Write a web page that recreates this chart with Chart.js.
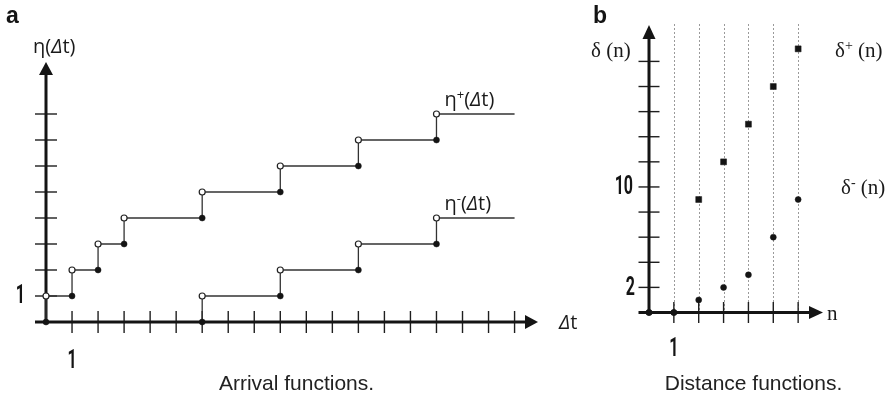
<!DOCTYPE html>
<html>
<head>
<meta charset="utf-8">
<script src="https://cdn.jsdelivr.net/npm/chart.js@4/dist/chart.umd.min.js"></script>
<style>
  html, body { margin: 0; padding: 0; background: #fff; }
  #wrap { position: relative; width: 895px; height: 399px; overflow: hidden; }
  #chartA { position: absolute; left: 0; top: 0; }
  #chartB { position: absolute; left: 590px; top: 0; }
</style>
</head>
<body>
<div id="wrap">
  <canvas id="chartA" width="590" height="399"></canvas>
  <canvas id="chartB" width="305" height="399"></canvas>
</div>
<script>
// ---------- DATA ----------
// panel a : arrival functions (step positions and values)
var etaPlusJumps = [0, 1, 2, 3, 6, 9, 12, 15];
var etaPlusValues = [1, 2, 3, 4, 5, 6, 7, 8];
var etaMinusJumps = [6, 9, 12, 15];
var etaMinusValues = [1, 2, 3, 4];
var dtEnd = 18;
var dtTicks = [1, 2, 3, 4, 5, 6, 7, 8, 9, 10, 11, 12, 13, 14, 15, 16, 17, 18];
var etaTicks = [1, 2, 3, 4, 5, 6, 7, 8];

// panel b : distance functions
var nValues = [0, 1, 2, 3, 4, 5, 6];
var deltaMinus = [0, 0, 1, 2, 3, 6, 9];
var deltaPlus = [0, 0, 9, 12, 15, 18, 21];
var nTicks = [1, 2, 3, 4, 5, 6];
var deltaTicks = [2, 4, 6, 8, 10, 12, 14, 16, 18, 20];

var INK = '#141414';
var LINE = '#333';

// helpers
function stepLine(jumps, vals, end) {
    var pts = [{ x: jumps[0], y: 0 }];
    for (var i = 0; i < jumps.length; i++) pts.push({ x: jumps[i], y: vals[i] });
    pts.push({ x: end, y: vals[vals.length - 1] });
    return pts;
}
function closedDots(jumps, vals) {
    return jumps.map(function (x, i) { return { x: x, y: i === 0 ? 0 : vals[i - 1] }; });
}
function openDots(jumps, vals) {
    return jumps.map(function (x, i) { return { x: x, y: vals[i] }; });
}
function richText(ctx, x, y, parts) {
    parts.forEach(function (p) {
        ctx.font = p.font;
        ctx.fillText(p.t, x, y + (p.dy || 0));
        x += ctx.measureText(p.t).width + (p.gap || 0);
    });
}
function numLabel(ctx, text, x, y, align) {
    ctx.save();
    ctx.font = 'bold 25px Roboto';
    ctx.textBaseline = 'middle';
    var sx = 0.64;
    var w = ctx.measureText(text).width * sx;
    var left = align === 'right' ? x - w : (align === 'center' ? x - w / 2 : x);
    ctx.translate(left, y);
    ctx.scale(sx, 1);
    ctx.textAlign = 'left';
    ctx.fillText(text, 0, 1);
    ctx.restore();
}
function arrowUp(ctx, x, tip, len, half) {
    ctx.beginPath();
    ctx.moveTo(x, tip);
    ctx.lineTo(x - half, tip + len);
    ctx.lineTo(x + half, tip + len);
    ctx.closePath();
    ctx.fill();
}
function arrowRight(ctx, tip, y, len, half) {
    ctx.beginPath();
    ctx.moveTo(tip, y);
    ctx.lineTo(tip - len, y - half);
    ctx.lineTo(tip - len, y + half);
    ctx.closePath();
    ctx.fill();
}

// axes drawn under the marks
var axesPlugin = {
    id: 'axes',
    beforeDatasetsDraw: function (chart, args, opts) {
        var ctx = chart.ctx, xs = chart.scales.x, ys = chart.scales.y, a = chart.chartArea;
        var x0 = xs.getPixelForValue(0), y0 = ys.getPixelForValue(0);
        ctx.save();
        // guide lines (panel b)
        if (opts.guides) {
            ctx.strokeStyle = '#9a9a9a';
            ctx.lineWidth = 1;
            ctx.setLineDash([2, 2]);
            opts.guides.forEach(function (v) {
                var px = Math.round(xs.getPixelForValue(v)) + 0.5;
                ctx.beginPath();
                ctx.moveTo(px, a.top - 1);
                ctx.lineTo(px, y0);
                ctx.stroke();
            });
            ctx.setLineDash([]);
        }
        // tick marks
        ctx.strokeStyle = '#1e1e1e';
        ctx.lineWidth = 1.4;
        opts.xTicks.forEach(function (v) {
            var px = xs.getPixelForValue(v);
            ctx.beginPath();
            ctx.moveTo(px, y0 - opts.tick);
            ctx.lineTo(px, y0 + opts.tick);
            ctx.stroke();
        });
        opts.yTicks.forEach(function (v) {
            var py = ys.getPixelForValue(v);
            ctx.beginPath();
            ctx.moveTo(x0 - opts.tick, py);
            ctx.lineTo(x0 + opts.tick, py);
            ctx.stroke();
        });
        // axis lines + arrows
        ctx.strokeStyle = INK;
        ctx.fillStyle = INK;
        ctx.lineWidth = 3;
        ctx.beginPath();
        ctx.moveTo(x0 - opts.tick, y0);
        ctx.lineTo(a.right - 10, y0);
        ctx.moveTo(x0, y0 + 1);
        ctx.lineTo(x0, a.top + 10);
        ctx.stroke();
        arrowRight(ctx, a.right, y0, opts.arrow, opts.arrowHalf);
        arrowUp(ctx, x0, a.top, opts.arrow, opts.arrowHalf);
        ctx.restore();
    },
    afterDraw: function (chart, args, opts) {
        if (opts.labels) opts.labels(chart, chart.ctx, chart.scales.x, chart.scales.y);
    }
};
Chart.register(axesPlugin);

var baseOptions = {
    responsive: false,
    animation: false,
    events: [],
    plugins: { legend: { display: false }, tooltip: { enabled: false } }
};

// ---------- PANEL A : ARRIVAL FUNCTIONS ----------
var markA = { showLine: false, clip: false, pointRadius: 3, pointHoverRadius: 3 };
var sans = '"Open Sans", "DejaVu Sans", sans-serif';
function etaLabel(sup) {
    var p = [{ t: 'η', font: '20px ' + sans }];
    if (sup) p.push({ t: sup, font: '13px ' + sans, dy: -7 });
    return p.concat([
        { t: '(', font: '20px ' + sans },
        { t: 'Δ', font: 'italic 20px ' + sans },
        { t: 't)', font: '20px ' + sans }
    ]);
}
new Chart(document.getElementById('chartA'), {
    type: 'scatter',
    data: {
        datasets: [
            Object.assign({ data: openDots(etaPlusJumps, etaPlusValues), backgroundColor: '#fff', borderColor: '#222', borderWidth: 1.2 }, markA),
            Object.assign({ data: openDots(etaMinusJumps, etaMinusValues), backgroundColor: '#fff', borderColor: '#222', borderWidth: 1.2 }, markA),
            Object.assign({ data: closedDots(etaPlusJumps, etaPlusValues), backgroundColor: INK, borderColor: INK, borderWidth: 0.5 }, markA),
            Object.assign({ data: closedDots(etaMinusJumps, etaMinusValues), backgroundColor: INK, borderColor: INK, borderWidth: 0.5 }, markA),
            { data: stepLine(etaPlusJumps, etaPlusValues, dtEnd), showLine: true, stepped: true, clip: false, pointRadius: 0, borderColor: LINE, borderWidth: 1.3 },
            { data: stepLine(etaMinusJumps, etaMinusValues, dtEnd), showLine: true, stepped: true, clip: false, pointRadius: 0, borderColor: LINE, borderWidth: 1.3 }
        ]
    },
    options: Object.assign({}, baseOptions, {
        layout: { padding: { left: 46, right: 52, top: 62, bottom: 77 } },
        scales: {
            x: { type: 'linear', min: 0, max: 18.9, display: false },
            y: { type: 'linear', min: 0, max: 10, display: false }
        },
        plugins: {
            legend: { display: false },
            tooltip: { enabled: false },
            axes: {
                xTicks: dtTicks, yTicks: etaTicks, tick: 11, arrow: 13, arrowHalf: 7,
                labels: function (chart, ctx, xs, ys) {
                    ctx.save();
                    ctx.fillStyle = INK;
                    ctx.textBaseline = 'alphabetic';
                    ctx.font = 'bold 23px "Liberation Sans", Arial, sans-serif';
                    ctx.fillText('a', 6, 23);
                    ctx.fillStyle = '#1a1a1a';
                    richText(ctx, 33, 53, etaLabel(null));
                    var xl = xs.getPixelForValue(etaPlusJumps[etaPlusJumps.length - 1]) + 8;
                    richText(ctx, xl, ys.getPixelForValue(etaPlusValues[etaPlusValues.length - 1]) - 8, etaLabel('+'));
                    richText(ctx, xl, ys.getPixelForValue(etaMinusValues[etaMinusValues.length - 1]) - 8, etaLabel('-'));
                    richText(ctx, 559, 329, [
                        { t: 'Δ', font: 'italic 20px ' + sans },
                        { t: 't', font: '20px ' + sans }
                    ]);
                    ctx.fillStyle = INK;
                    numLabel(ctx, '1', 25, ys.getPixelForValue(1), 'right');
                    numLabel(ctx, '1', xs.getPixelForValue(1), 361, 'center');
                    ctx.font = '21px "Liberation Sans", Arial, sans-serif';
                    ctx.textAlign = 'center';
                    ctx.fillStyle = '#222';
                    ctx.fillText('Arrival functions.', 296.5, 390);
                    ctx.restore();
                }
            }
        }
    })
});

// ---------- PANEL B : DISTANCE FUNCTIONS ----------
var serif = '"Liberation Serif", "DejaVu Serif", serif';
function pts(vals) { return nValues.map(function (n, i) { return { x: n, y: vals[i] }; }); }
new Chart(document.getElementById('chartB'), {
    type: 'scatter',
    data: {
        datasets: [
            { data: pts(deltaMinus), showLine: false, clip: false, pointStyle: 'circle', pointRadius: 3, backgroundColor: INK, borderColor: INK, borderWidth: 0.5 },
            {
                data: pts(deltaPlus), showLine: false, clip: false,
                pointStyle: function (c) { return deltaPlus[c.dataIndex] === deltaMinus[c.dataIndex] ? 'circle' : 'rect'; },
                pointRadius: function (c) { return deltaPlus[c.dataIndex] === deltaMinus[c.dataIndex] ? 3 : 4.2; },
                backgroundColor: INK, borderColor: INK, borderWidth: 0.5
            }
        ]
    },
    options: Object.assign({}, baseOptions, {
        layout: { padding: { left: 59, right: 72, top: 25, bottom: 86.5 } },
        scales: {
            x: { type: 'linear', min: 0, max: 7, display: false },
            y: { type: 'linear', min: 0, max: 22.9, display: false }
        },
        plugins: {
            legend: { display: false },
            tooltip: { enabled: false },
            axes: {
                xTicks: nTicks, yTicks: deltaTicks, guides: nTicks, tick: 10.5, arrow: 14, arrowHalf: 6.5,
                labels: function (chart, ctx, xs, ys) {
                    ctx.save();
                    ctx.fillStyle = INK;
                    ctx.textBaseline = 'alphabetic';
                    ctx.font = 'bold 23px "Liberation Sans", Arial, sans-serif';
                    ctx.fillText('b', 3, 23);
                    ctx.fillStyle = '#1a1a1a';
                    richText(ctx, 1, 57, [{ t: 'δ (n)', font: '21px ' + serif }]);
                    richText(ctx, 245, 57, [
                        { t: 'δ', font: '21px ' + serif },
                        { t: '+', font: '14px ' + serif, dy: -7 },
                        { t: ' (n)', font: '21px ' + serif }
                    ]);
                    richText(ctx, 251, 194, [
                        { t: 'δ', font: '21px ' + serif },
                        { t: '-', font: '14px ' + serif, dy: -7 },
                        { t: ' (n)', font: '21px ' + serif }
                    ]);
                    richText(ctx, 237, ys.getPixelForValue(0) + 7, [{ t: 'n', font: '21px ' + serif }]);
                    ctx.fillStyle = INK;
                    numLabel(ctx, '2', 45, ys.getPixelForValue(2), 'right');
                    numLabel(ctx, '10', 43, ys.getPixelForValue(10), 'right');
                    numLabel(ctx, '1', xs.getPixelForValue(1), 349, 'center');
                    ctx.font = '21px "Liberation Sans", Arial, sans-serif';
                    ctx.textAlign = 'center';
                    ctx.fillStyle = '#222';
                    ctx.fillText('Distance functions.', 163.5, 390);
                    ctx.restore();
                }
            }
        }
    })
});
</script>
</body>
</html>
